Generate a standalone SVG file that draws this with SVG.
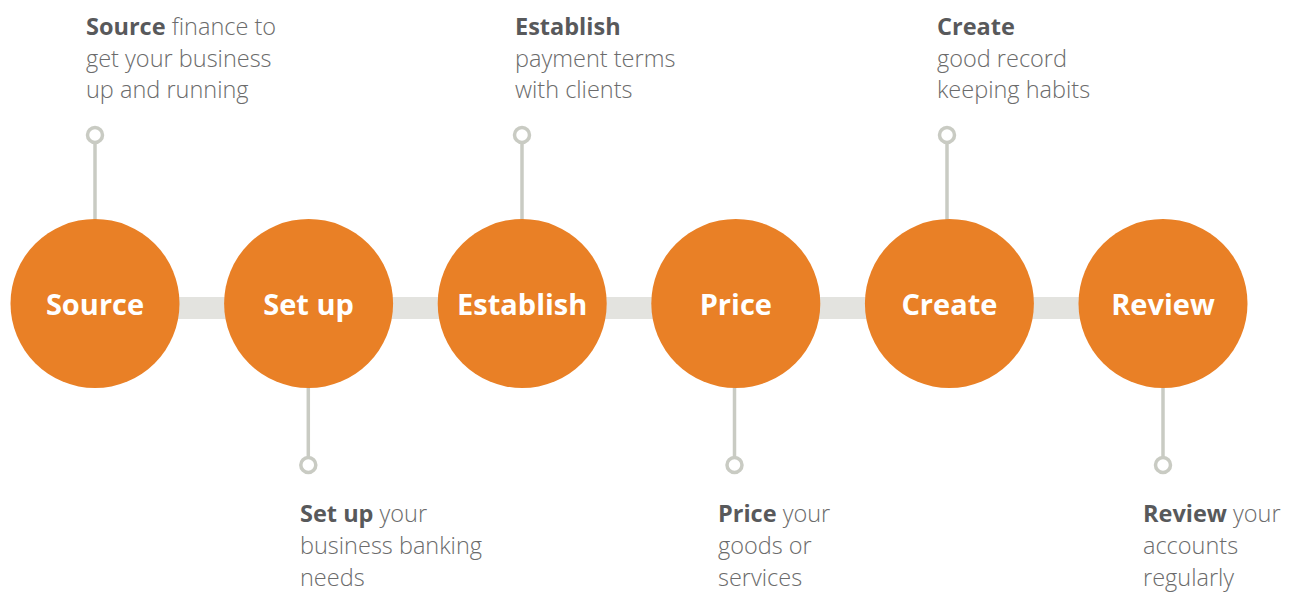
<svg xmlns="http://www.w3.org/2000/svg" width="1292" height="592" viewBox="0 0 1292 592">
  <style>
    .bar { fill: #e3e3df; }
    .stem { stroke: #c9cbc3; stroke-width: 3.5; fill: none; }
    .ring { stroke: #c9cbc3; stroke-width: 3.5; fill: #ffffff; }
    .disc { fill: #e98026; }
    .label { font-family: "Open Sans", "Liberation Sans", sans-serif; font-weight: 700; font-size: 29px; fill: #ffffff; text-anchor: middle; }
    .note { font-family: "Open Sans", "Liberation Sans", sans-serif; font-weight: 300; font-size: 23.5px; fill: #6b6b6b; }
    .note .b { font-weight: 700; fill: #58595b; }
  </style>
  <rect width="1292" height="592" fill="#ffffff"/>

  <!-- horizontal track, stems and end rings -->
  <g id="connectors">
    <rect class="bar" x="95" y="297" width="1068" height="22"/>
    <line class="stem" x1="95" y1="143" x2="95" y2="220"/>
    <line class="stem" x1="308.3" y1="386" x2="308.3" y2="457"/>
    <line class="stem" x1="522" y1="143" x2="522" y2="220"/>
    <line class="stem" x1="734.5" y1="386" x2="734.5" y2="457"/>
    <line class="stem" x1="947" y1="143" x2="947" y2="220"/>
    <line class="stem" x1="1163" y1="386" x2="1163" y2="457"/>
    <circle class="ring" cx="95" cy="135" r="7.5"/>
    <circle class="ring" cx="308.3" cy="465" r="7.5"/>
    <circle class="ring" cx="522" cy="135" r="7.5"/>
    <circle class="ring" cx="734.5" cy="465" r="7.5"/>
    <circle class="ring" cx="947" cy="135" r="7.5"/>
    <circle class="ring" cx="1163" cy="465" r="7.5"/>
  </g>

  <g id="source">
    <circle class="disc" cx="95" cy="303.5" r="84.5"/>
    <text class="label" x="95" y="315">Source</text>
    <text class="note"><tspan x="86" y="35"><tspan class="b">Source</tspan> finance to</tspan><tspan x="86" y="67">get your business</tspan><tspan x="86" y="98">up and running</tspan></text>
  </g>

  <g id="setup">
    <circle class="disc" cx="308.6" cy="303.5" r="84.5"/>
    <text class="label" x="308.6" y="315">Set up</text>
    <text class="note"><tspan x="300" y="522"><tspan class="b">Set up</tspan> your</tspan><tspan x="300" y="554">business banking</tspan><tspan x="300" y="586">needs</tspan></text>
  </g>

  <g id="establish">
    <circle class="disc" cx="522.2" cy="303.5" r="84.5"/>
    <text class="label" x="522.2" y="315">Establish</text>
    <text class="note"><tspan x="515" y="35" class="b">Establish</tspan><tspan x="515" y="67">payment terms</tspan><tspan x="515" y="98">with clients</tspan></text>
  </g>

  <g id="price">
    <circle class="disc" cx="735.8" cy="303.5" r="84.5"/>
    <text class="label" x="735.8" y="315">Price</text>
    <text class="note"><tspan x="718" y="522"><tspan class="b">Price</tspan> your</tspan><tspan x="718" y="554">goods or</tspan><tspan x="718" y="586">services</tspan></text>
  </g>

  <g id="create">
    <circle class="disc" cx="949.4" cy="303.5" r="84.5"/>
    <text class="label" x="949.4" y="315">Create</text>
    <text class="note"><tspan x="937" y="35" class="b">Create</tspan><tspan x="937" y="67">good record</tspan><tspan x="937" y="98">keeping habits</tspan></text>
  </g>

  <g id="review">
    <circle class="disc" cx="1163" cy="303.5" r="84.5"/>
    <text class="label" x="1163" y="315">Review</text>
    <text class="note"><tspan x="1143" y="522"><tspan class="b">Review</tspan> your</tspan><tspan x="1143" y="554">accounts</tspan><tspan x="1143" y="586">regularly</tspan></text>
  </g>
</svg>
